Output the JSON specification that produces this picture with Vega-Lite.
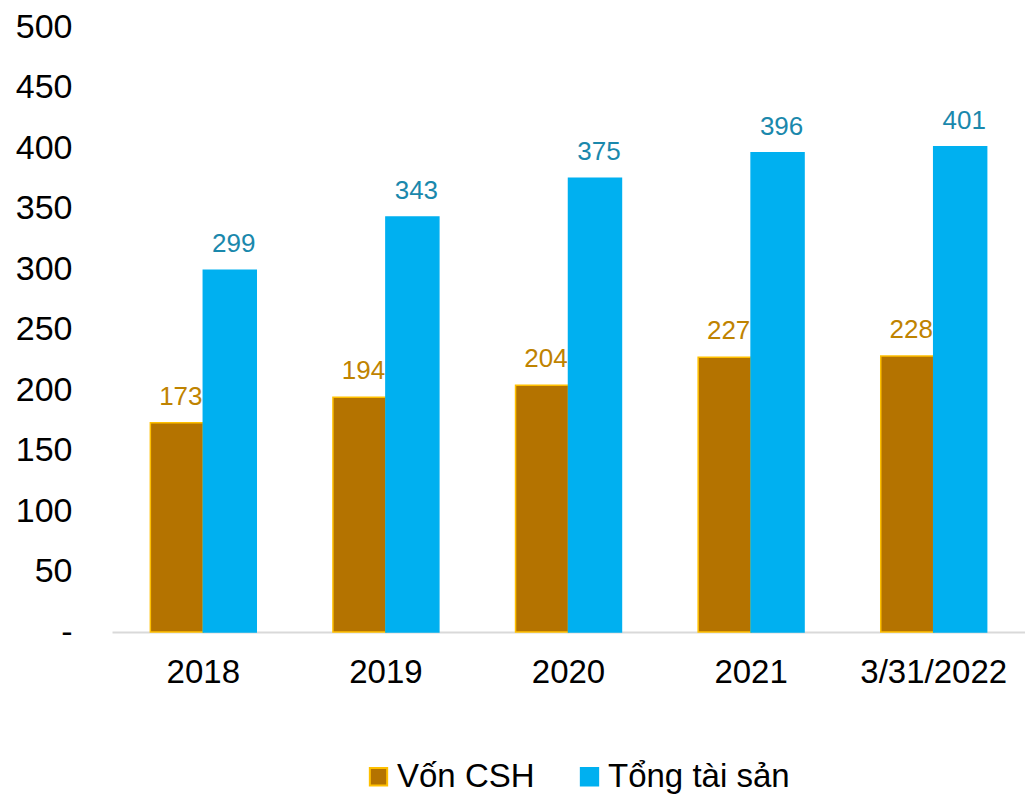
{
  "$schema": "https://vega.github.io/schema/vega-lite/v6.json",
  "autosize": {"type": "none"},
  "padding": {"left": 112, "top": 27, "right": 0, "bottom": 164},
  "width": 913,
  "height": 605,
  "background": "white",
  "config": {"view": {"stroke": null}, "font": "Liberation Sans"},
  "data": {"values": [
    {"cat": "2018", "series": "Vốn CSH", "value": 173},
    {"cat": "2018", "series": "Tổng tài sản", "value": 299},
    {"cat": "2019", "series": "Vốn CSH", "value": 194},
    {"cat": "2019", "series": "Tổng tài sản", "value": 343},
    {"cat": "2020", "series": "Vốn CSH", "value": 204},
    {"cat": "2020", "series": "Tổng tài sản", "value": 375},
    {"cat": "2021", "series": "Vốn CSH", "value": 227},
    {"cat": "2021", "series": "Tổng tài sản", "value": 396},
    {"cat": "3/31/2022", "series": "Vốn CSH", "value": 228},
    {"cat": "3/31/2022", "series": "Tổng tài sản", "value": 401}
  ]},
  "encoding": {
    "x": {"field": "cat", "type": "nominal", "sort": null,
      "scale": {"paddingInner": 0.42, "paddingOuter": 0.21},
      "axis": {"title": null, "labelAngle": 0, "labelFontSize": 33, "labelColor": "#000000",
        "labelFont": "Liberation Sans", "ticks": false, "domainColor": "#D9D9D9", "domainWidth": 2,
        "labelPadding": 24}},
    "xOffset": {"field": "series", "type": "nominal", "sort": ["Vốn CSH", "Tổng tài sản"],
      "scale": {"paddingInner": 0, "paddingOuter": 0}},
    "y": {"field": "value", "type": "quantitative",
      "scale": {"domain": [0, 500], "nice": false},
      "axis": {"title": null, "grid": false, "domain": false, "ticks": false, "values": [0,50,100,150,200,250,300,350,400,450,500],
        "labelFontSize": 34, "labelColor": "#000000", "labelFont": "Liberation Sans", "labelPadding": 40,
        "labelExpr": "datum.value == 0 ? '-\u00a0\u00a0' : datum.label"}}
  },
  "layer": [
    {
      "mark": {"type": "bar"},
      "encoding": {
        "color": {"field": "series", "type": "nominal", "sort": ["Vốn CSH", "Tổng tài sản"],
          "scale": {"domain": ["Vốn CSH", "Tổng tài sản"], "range": ["#B47300", "#00B0F0"]},
          "legend": {"title": null, "orient": "none", "direction": "horizontal", "legendX": 250, "legendY": 733,
            "symbolType": "square", "symbolSize": 300, "symbolStrokeWidth": 2, "labelLimit": 400,
            "labelFontSize": 33, "labelFont": "Liberation Sans", "labelColor": "#000000", "labelOffset": 2,
            "columnPadding": 38, "symbolOpacity": 1}},
        "stroke": {"field": "series", "type": "nominal", "sort": ["Vốn CSH", "Tổng tài sản"],
          "scale": {"domain": ["Vốn CSH", "Tổng tài sản"], "range": ["#FFC000", "#00B0F0"]},
          "legend": {"title": null, "orient": "none", "direction": "horizontal", "legendX": 250, "legendY": 733,
            "symbolType": "square", "symbolSize": 300, "symbolStrokeWidth": 2, "labelLimit": 400,
            "labelFontSize": 33, "labelFont": "Liberation Sans", "labelColor": "#000000", "labelOffset": 2,
            "columnPadding": 38, "symbolOpacity": 1}},
        "strokeWidth": {"value": 1.5}
      }
    },
    {
      "mark": {"type": "text", "baseline": "bottom", "dy": -13, "dx": 4, "fontSize": 26, "font": "Liberation Sans"},
      "encoding": {
        "text": {"field": "value", "type": "quantitative"},
        "fill": {"field": "series", "type": "nominal",
          "scale": {"domain": ["Vốn CSH", "Tổng tài sản"], "range": ["#BF8300", "#1A88AC"]}, "legend": null}
      }
    }
  ]
}
